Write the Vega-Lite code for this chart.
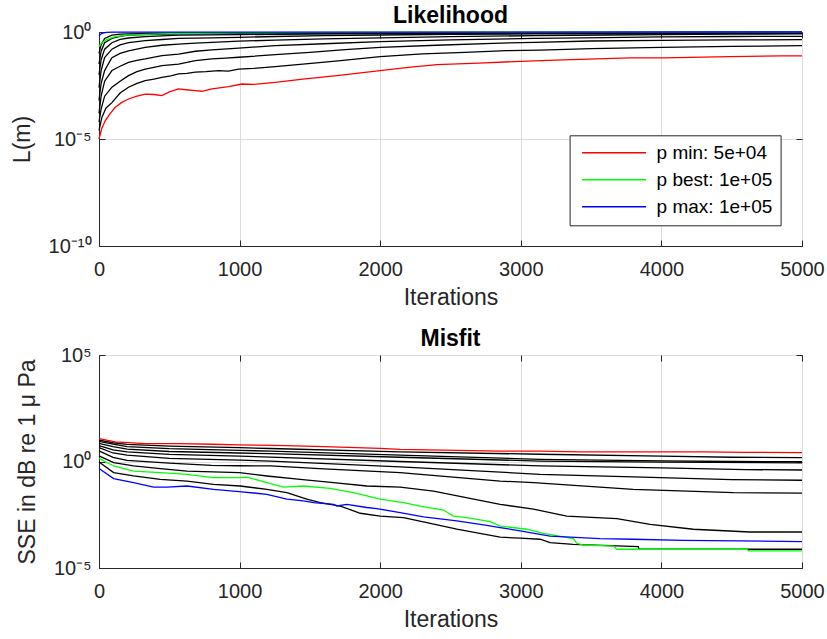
{
  "$schema": "https://vega.github.io/schema/vega-lite/v6.json",
  "background": "white",
  "padding": {"left": 10, "top": 4, "right": 5, "bottom": 5},
  "spacing": 17,
  "config": {
    "font": "Liberation Sans",
    "view": {"stroke": "#262626", "strokeWidth": 1},
    "axis": {
      "labelFont": "Liberation Sans", "labelFontSize": 20, "labelColor": "#262626",
      "titleFont": "Liberation Sans", "titleFontSize": 23, "titleFontWeight": "normal", "titleColor": "#262626",
      "domainColor": "#262626", "tickColor": "#262626", "tickSize": -6,
      "gridColor": "#dcdcdc", "gridWidth": 1, "labelFlush": false, "labelOverlap": false
    },
    "axisX": {"labelPadding": 19, "titlePadding": 7},
    "axisY": {"labelPadding": 14, "titlePadding": 14},
    "title": {"font": "Liberation Sans", "fontSize": 23, "fontWeight": "bold", "color": "#000000", "offset": -6, "anchor": "middle"}
  },
  "datasets": {
    "top": [
      {"s":"c1","x":0,"y":0.1},{"s":"c1","x":15,"y":0.251},{"s":"c1","x":40,"y":0.501},{"s":"c1","x":92,"y":0.708},{"s":"c1","x":150,"y":0.794},{"s":"c1","x":329,"y":0.871},{"s":"c1","x":566,"y":0.891},{"s":"c1","x":993,"y":0.912},{"s":"c1","x":2000,"y":0.933},{"s":"c1","x":3500,"y":0.955},{"s":"c1","x":5000,"y":0.977},
      {"s":"c2","x":0,"y":0.0316},{"s":"c2","x":15,"y":0.126},{"s":"c2","x":40,"y":0.316},{"s":"c2","x":92,"y":0.501},{"s":"c2","x":150,"y":0.631},{"s":"c2","x":210,"y":0.708},{"s":"c2","x":329,"y":0.759},{"s":"c2","x":566,"y":0.813},{"s":"c2","x":993,"y":0.851},{"s":"c2","x":1600,"y":0.891},{"s":"c2","x":2500,"y":0.912},{"s":"c2","x":3500,"y":0.933},{"s":"c2","x":5000,"y":0.955},
      {"s":"c3","x":0,"y":0.01},{"s":"c3","x":15,"y":0.0501},{"s":"c3","x":40,"y":0.158},{"s":"c3","x":92,"y":0.316},{"s":"c3","x":150,"y":0.447},{"s":"c3","x":210,"y":0.525},{"s":"c3","x":329,"y":0.603},{"s":"c3","x":448,"y":0.661},{"s":"c3","x":566,"y":0.708},{"s":"c3","x":803,"y":0.741},{"s":"c3","x":993,"y":0.759},{"s":"c3","x":1253,"y":0.776},{"s":"c3","x":2000,"y":0.851},{"s":"c3","x":3100,"y":0.891},{"s":"c3","x":4000,"y":0.912},{"s":"c3","x":5000,"y":0.933},
      {"s":"c4","x":0,"y":0.00251},{"s":"c4","x":15,"y":0.0158},{"s":"c4","x":40,"y":0.0631},{"s":"c4","x":92,"y":0.158},{"s":"c4","x":150,"y":0.251},{"s":"c4","x":210,"y":0.316},{"s":"c4","x":329,"y":0.398},{"s":"c4","x":448,"y":0.447},{"s":"c4","x":566,"y":0.501},{"s":"c4","x":803,"y":0.537},{"s":"c4","x":993,"y":0.562},{"s":"c4","x":1253,"y":0.617},{"s":"c4","x":1600,"y":0.676},{"s":"c4","x":2000,"y":0.724},{"s":"c4","x":2500,"y":0.776},{"s":"c4","x":3100,"y":0.813},{"s":"c4","x":4000,"y":0.851},{"s":"c4","x":5000,"y":0.871},
      {"s":"c5","x":0,"y":0.000631},{"s":"c5","x":15,"y":0.00398},{"s":"c5","x":40,"y":0.0158},{"s":"c5","x":92,"y":0.0631},{"s":"c5","x":150,"y":0.1},{"s":"c5","x":210,"y":0.132},{"s":"c5","x":329,"y":0.191},{"s":"c5","x":448,"y":0.24},{"s":"c5","x":566,"y":0.269},{"s":"c5","x":685,"y":0.302},{"s":"c5","x":803,"y":0.331},{"s":"c5","x":993,"y":0.372},{"s":"c5","x":1253,"y":0.417},{"s":"c5","x":1600,"y":0.479},{"s":"c5","x":2000,"y":0.537},{"s":"c5","x":2500,"y":0.603},{"s":"c5","x":3100,"y":0.676},{"s":"c5","x":3600,"y":0.724},{"s":"c5","x":4000,"y":0.759},{"s":"c5","x":4500,"y":0.794},{"s":"c5","x":5000,"y":0.813},
      {"s":"c6","x":0,"y":0.000158},{"s":"c6","x":15,"y":0.001},{"s":"c6","x":40,"y":0.00501},{"s":"c6","x":92,"y":0.0158},{"s":"c6","x":150,"y":0.0251},{"s":"c6","x":210,"y":0.038},{"s":"c6","x":270,"y":0.0468},{"s":"c6","x":329,"y":0.055},{"s":"c6","x":448,"y":0.0794},{"s":"c6","x":566,"y":0.0933},{"s":"c6","x":685,"y":0.126},{"s":"c6","x":803,"y":0.145},{"s":"c6","x":993,"y":0.178},{"s":"c6","x":1253,"y":0.229},{"s":"c6","x":1600,"y":0.282},{"s":"c6","x":2000,"y":0.355},{"s":"c6","x":2500,"y":0.427},{"s":"c6","x":3100,"y":0.501},{"s":"c6","x":3600,"y":0.55},{"s":"c6","x":4000,"y":0.589},{"s":"c6","x":4500,"y":0.617},{"s":"c6","x":5000,"y":0.631},
      {"s":"c7","x":0,"y":6.31e-5},{"s":"c7","x":15,"y":0.000251},{"s":"c7","x":40,"y":0.001},{"s":"c7","x":92,"y":0.00263},{"s":"c7","x":150,"y":0.00501},{"s":"c7","x":210,"y":0.00912},{"s":"c7","x":270,"y":0.0141},{"s":"c7","x":329,"y":0.0186},{"s":"c7","x":390,"y":0.0224},{"s":"c7","x":448,"y":0.0269},{"s":"c7","x":566,"y":0.0316},{"s":"c7","x":685,"y":0.0457},{"s":"c7","x":803,"y":0.055},{"s":"c7","x":900,"y":0.0603},{"s":"c7","x":993,"y":0.0661},{"s":"c7","x":1253,"y":0.0871},{"s":"c7","x":1500,"y":0.112},{"s":"c7","x":1750,"y":0.151},{"s":"c7","x":2000,"y":0.191},{"s":"c7","x":2400,"y":0.24},{"s":"c7","x":2800,"y":0.295},{"s":"c7","x":3100,"y":0.331},{"s":"c7","x":3500,"y":0.38},{"s":"c7","x":4000,"y":0.407},{"s":"c7","x":4500,"y":0.427},{"s":"c7","x":5000,"y":0.437},
      {"s":"c8","x":0,"y":2.51e-5},{"s":"c8","x":20,"y":0.0001},{"s":"c8","x":50,"y":0.000282},{"s":"c8","x":92,"y":0.000501},{"s":"c8","x":150,"y":0.00141},{"s":"c8","x":210,"y":0.00263},{"s":"c8","x":270,"y":0.00398},{"s":"c8","x":329,"y":0.00537},{"s":"c8","x":390,"y":0.00631},{"s":"c8","x":448,"y":0.00759},{"s":"c8","x":510,"y":0.00891},{"s":"c8","x":566,"y":0.011},{"s":"c8","x":625,"y":0.0117},{"s":"c8","x":685,"y":0.0132},{"s":"c8","x":760,"y":0.0141},{"s":"c8","x":850,"y":0.0158},{"s":"c8","x":920,"y":0.0148},{"s":"c8","x":993,"y":0.0186},{"s":"c8","x":1100,"y":0.02},{"s":"c8","x":1253,"y":0.024},{"s":"c8","x":1450,"y":0.0316},{"s":"c8","x":1700,"y":0.0447},{"s":"c8","x":2000,"y":0.0708},{"s":"c8","x":2300,"y":0.0955},{"s":"c8","x":2600,"y":0.112},{"s":"c8","x":2900,"y":0.135},{"s":"c8","x":3137,"y":0.141},{"s":"c8","x":3500,"y":0.166},{"s":"c8","x":4000,"y":0.191},{"s":"c8","x":4500,"y":0.214},{"s":"c8","x":5000,"y":0.229},
      {"s":"p min: 5e+04","x":0,"y":1e-5},{"s":"p min: 5e+04","x":20,"y":3.16e-5},{"s":"p min: 5e+04","x":45,"y":7.24e-5},{"s":"p min: 5e+04","x":80,"y":0.000158},{"s":"p min: 5e+04","x":116,"y":0.000302},{"s":"p min: 5e+04","x":160,"y":0.000501},{"s":"p min: 5e+04","x":210,"y":0.000741},{"s":"p min: 5e+04","x":270,"y":0.001},{"s":"p min: 5e+04","x":329,"y":0.00126},{"s":"p min: 5e+04","x":390,"y":0.0012},{"s":"p min: 5e+04","x":448,"y":0.00107},{"s":"p min: 5e+04","x":500,"y":0.00158},{"s":"p min: 5e+04","x":566,"y":0.00219},{"s":"p min: 5e+04","x":620,"y":0.002},{"s":"p min: 5e+04","x":685,"y":0.00182},{"s":"p min: 5e+04","x":732,"y":0.0017},{"s":"p min: 5e+04","x":803,"y":0.00219},{"s":"p min: 5e+04","x":870,"y":0.00251},{"s":"p min: 5e+04","x":921,"y":0.00282},{"s":"p min: 5e+04","x":1017,"y":0.00372},{"s":"p min: 5e+04","x":1100,"y":0.00355},{"s":"p min: 5e+04","x":1253,"y":0.00447},{"s":"p min: 5e+04","x":1450,"y":0.00631},{"s":"p min: 5e+04","x":1692,"y":0.00912},{"s":"p min: 5e+04","x":2000,"y":0.0158},{"s":"p min: 5e+04","x":2200,"y":0.0224},{"s":"p min: 5e+04","x":2403,"y":0.0302},{"s":"p min: 5e+04","x":2700,"y":0.0355},{"s":"p min: 5e+04","x":2995,"y":0.0427},{"s":"p min: 5e+04","x":3300,"y":0.0501},{"s":"p min: 5e+04","x":3777,"y":0.0617},{"s":"p min: 5e+04","x":4014,"y":0.0617},{"s":"p min: 5e+04","x":4488,"y":0.0708},{"s":"p min: 5e+04","x":4844,"y":0.0759},{"s":"p min: 5e+04","x":5000,"y":0.0759},
      {"s":"p best: 1e+05","x":0,"y":0.209},{"s":"p best: 1e+05","x":20,"y":0.316},{"s":"p best: 1e+05","x":52,"y":0.427},{"s":"p best: 1e+05","x":90,"y":0.537},{"s":"p best: 1e+05","x":123,"y":0.617},{"s":"p best: 1e+05","x":200,"y":0.708},{"s":"p best: 1e+05","x":336,"y":0.776},{"s":"p best: 1e+05","x":500,"y":0.832},{"s":"p best: 1e+05","x":692,"y":0.871},{"s":"p best: 1e+05","x":1000,"y":0.912},{"s":"p best: 1e+05","x":1500,"y":0.955},{"s":"p best: 1e+05","x":2500,"y":0.977},{"s":"p best: 1e+05","x":5000,"y":0.989},
      {"s":"p max: 1e+05","x":0,"y":0.676},{"s":"p max: 1e+05","x":20,"y":0.871},{"s":"p max: 1e+05","x":52,"y":0.955},{"s":"p max: 1e+05","x":100,"y":0.977},{"s":"p max: 1e+05","x":300,"y":0.993},{"s":"p max: 1e+05","x":5000,"y":0.998}
    ],
    "bottom": [
      {"s":"c1","x":0,"y":10},{"s":"c1","x":100,"y":7.59},{"s":"c1","x":200,"y":6.31},{"s":"c1","x":500,"y":5.25},{"s":"c1","x":1000,"y":4.47},{"s":"c1","x":1219,"y":4.07},{"s":"c1","x":2142,"y":2.82},{"s":"c1","x":3137,"y":2.19},{"s":"c1","x":4000,"y":1.78},{"s":"c1","x":4500,"y":1.58},{"s":"c1","x":5000,"y":1.51},
      {"s":"c2","x":0,"y":8.91},{"s":"c2","x":100,"y":6.61},{"s":"c2","x":200,"y":5.01},{"s":"c2","x":500,"y":3.98},{"s":"c2","x":1000,"y":3.31},{"s":"c2","x":1219,"y":3.09},{"s":"c2","x":2142,"y":2},{"s":"c2","x":3137,"y":1.26},{"s":"c2","x":4000,"y":1.07},{"s":"c2","x":4500,"y":1},{"s":"c2","x":5000,"y":0.977},
      {"s":"c3","x":0,"y":7.08},{"s":"c3","x":100,"y":5.01},{"s":"c3","x":200,"y":3.8},{"s":"c3","x":500,"y":2.95},{"s":"c3","x":1000,"y":2.51},{"s":"c3","x":1219,"y":2.34},{"s":"c3","x":2142,"y":1.58},{"s":"c3","x":3137,"y":1.05},{"s":"c3","x":4000,"y":0.933},{"s":"c3","x":5000,"y":0.871},
      {"s":"c4","x":0,"y":5.62},{"s":"c4","x":100,"y":3.55},{"s":"c4","x":200,"y":2.82},{"s":"c4","x":500,"y":2.14},{"s":"c4","x":1000,"y":1.78},{"s":"c4","x":1219,"y":1.62},{"s":"c4","x":2142,"y":1},{"s":"c4","x":3137,"y":0.617},{"s":"c4","x":4000,"y":0.501},{"s":"c4","x":4600,"y":0.417},{"s":"c4","x":5000,"y":0.398},
      {"s":"c5","x":0,"y":4.47},{"s":"c5","x":100,"y":2.51},{"s":"c5","x":200,"y":2},{"s":"c5","x":500,"y":1.41},{"s":"c5","x":1000,"y":1.15},{"s":"c5","x":1219,"y":1.05},{"s":"c5","x":2142,"y":0.562},{"s":"c5","x":3137,"y":0.251},{"s":"c5","x":3800,"y":0.191},{"s":"c5","x":4500,"y":0.141},{"s":"c5","x":5000,"y":0.132},
      {"s":"c6","x":0,"y":3.16},{"s":"c6","x":100,"y":1.58},{"s":"c6","x":200,"y":1.12},{"s":"c6","x":500,"y":0.832},{"s":"c6","x":800,"y":0.661},{"s":"c6","x":1000,"y":0.631},{"s":"c6","x":1219,"y":0.617},{"s":"c6","x":1600,"y":0.447},{"s":"c6","x":2142,"y":0.302},{"s":"c6","x":2853,"y":0.12},{"s":"c6","x":3090,"y":0.102},{"s":"c6","x":3800,"y":0.049},{"s":"c6","x":4512,"y":0.0347},{"s":"c6","x":5000,"y":0.0324},
      {"s":"c7","x":0,"y":1.82},{"s":"c7","x":104,"y":0.891},{"s":"c7","x":246,"y":0.617},{"s":"c7","x":436,"y":0.468},{"s":"c7","x":626,"y":0.355},{"s":"c7","x":997,"y":0.302},{"s":"c7","x":1194,"y":0.209},{"s":"c7","x":1431,"y":0.145},{"s":"c7","x":1668,"y":0.102},{"s":"c7","x":1905,"y":0.0708},{"s":"c7","x":2142,"y":0.0631},{"s":"c7","x":2379,"y":0.0407},{"s":"c7","x":2853,"y":0.00977},{"s":"c7","x":3090,"y":0.00575},{"s":"c7","x":3327,"y":0.00275},{"s":"c7","x":3683,"y":0.00209},{"s":"c7","x":3920,"y":0.00112},{"s":"c7","x":4227,"y":0.000661},{"s":"c7","x":4630,"y":0.00049},{"s":"c7","x":5000,"y":0.00049},
      {"s":"c8","x":0,"y":0.955},{"s":"c8","x":104,"y":0.302},{"s":"c8","x":246,"y":0.209},{"s":"c8","x":436,"y":0.145},{"s":"c8","x":626,"y":0.12},{"s":"c8","x":815,"y":0.0851},{"s":"c8","x":1004,"y":0.0708},{"s":"c8","x":1194,"y":0.049},{"s":"c8","x":1336,"y":0.0347},{"s":"c8","x":1478,"y":0.017},{"s":"c8","x":1573,"y":0.0117},{"s":"c8","x":1716,"y":0.00813},{"s":"c8","x":1858,"y":0.00372},{"s":"c8","x":2000,"y":0.00275},{"s":"c8","x":2166,"y":0.00234},{"s":"c8","x":2332,"y":0.00135},{"s":"c8","x":2545,"y":0.000661},{"s":"c8","x":2853,"y":0.000282},{"s":"c8","x":2995,"y":0.000251},{"s":"c8","x":3137,"y":0.000224},{"s":"c8","x":3208,"y":0.000155},{"s":"c8","x":3374,"y":0.000129},{"s":"c8","x":3836,"y":0.0001},{"s":"c8","x":3840,"y":7.59e-5},{"s":"c8","x":5000,"y":7.59e-5},
      {"s":"p min: 5e+04","x":0,"y":12},{"s":"p min: 5e+04","x":116,"y":8.32},{"s":"p min: 5e+04","x":329,"y":6.92},{"s":"p min: 5e+04","x":566,"y":6.92},{"s":"p min: 5e+04","x":803,"y":6.46},{"s":"p min: 5e+04","x":993,"y":6.03},{"s":"p min: 5e+04","x":1253,"y":5.75},{"s":"p min: 5e+04","x":1600,"y":5.01},{"s":"p min: 5e+04","x":2000,"y":4.17},{"s":"p min: 5e+04","x":2142,"y":3.72},{"s":"p min: 5e+04","x":2853,"y":3.09},{"s":"p min: 5e+04","x":3137,"y":3.09},{"s":"p min: 5e+04","x":3422,"y":2.82},{"s":"p min: 5e+04","x":4299,"y":2.82},{"s":"p min: 5e+04","x":4600,"y":2.69},{"s":"p min: 5e+04","x":5000,"y":2.63},
      {"s":"p best: 1e+05","x":0,"y":1.41},{"s":"p best: 1e+05","x":104,"y":0.617},{"s":"p best: 1e+05","x":246,"y":0.355},{"s":"p best: 1e+05","x":436,"y":0.302},{"s":"p best: 1e+05","x":626,"y":0.251},{"s":"p best: 1e+05","x":815,"y":0.174},{"s":"p best: 1e+05","x":997,"y":0.174},{"s":"p best: 1e+05","x":1052,"y":0.186},{"s":"p best: 1e+05","x":1219,"y":0.0912},{"s":"p best: 1e+05","x":1313,"y":0.0631},{"s":"p best: 1e+05","x":1455,"y":0.0708},{"s":"p best: 1e+05","x":1644,"y":0.055},{"s":"p best: 1e+05","x":1810,"y":0.0347},{"s":"p best: 1e+05","x":2000,"y":0.017},{"s":"p best: 1e+05","x":2166,"y":0.0117},{"s":"p best: 1e+05","x":2284,"y":0.00794},{"s":"p best: 1e+05","x":2450,"y":0.00525},{"s":"p best: 1e+05","x":2521,"y":0.00275},{"s":"p best: 1e+05","x":2616,"y":0.00234},{"s":"p best: 1e+05","x":2782,"y":0.00151},{"s":"p best: 1e+05","x":2853,"y":0.000933},{"s":"p best: 1e+05","x":3043,"y":0.000661},{"s":"p best: 1e+05","x":3161,"y":0.000427},{"s":"p best: 1e+05","x":3374,"y":0.00024},{"s":"p best: 1e+05","x":3398,"y":0.000145},{"s":"p best: 1e+05","x":3445,"y":0.00012},{"s":"p best: 1e+05","x":3659,"y":0.000107},{"s":"p best: 1e+05","x":3683,"y":7.59e-5},{"s":"p best: 1e+05","x":4607,"y":7.59e-5},{"s":"p best: 1e+05","x":4620,"y":6.31e-5},{"s":"p best: 1e+05","x":5000,"y":6.31e-5},
      {"s":"p max: 1e+05","x":0,"y":0.468},{"s":"p max: 1e+05","x":104,"y":0.158},{"s":"p max: 1e+05","x":246,"y":0.102},{"s":"p max: 1e+05","x":388,"y":0.0631},{"s":"p max: 1e+05","x":483,"y":0.0631},{"s":"p max: 1e+05","x":626,"y":0.0708},{"s":"p max: 1e+05","x":815,"y":0.049},{"s":"p max: 1e+05","x":997,"y":0.0389},{"s":"p max: 1e+05","x":1194,"y":0.0288},{"s":"p max: 1e+05","x":1336,"y":0.017},{"s":"p max: 1e+05","x":1455,"y":0.0141},{"s":"p max: 1e+05","x":1526,"y":0.0117},{"s":"p max: 1e+05","x":1668,"y":0.00977},{"s":"p max: 1e+05","x":1692,"y":0.00813},{"s":"p max: 1e+05","x":1763,"y":0.00977},{"s":"p max: 1e+05","x":1905,"y":0.00692},{"s":"p max: 1e+05","x":1976,"y":0.00617},{"s":"p max: 1e+05","x":2142,"y":0.00398},{"s":"p max: 1e+05","x":2308,"y":0.00251},{"s":"p max: 1e+05","x":2545,"y":0.00162},{"s":"p max: 1e+05","x":2758,"y":0.001},{"s":"p max: 1e+05","x":2853,"y":0.000794},{"s":"p max: 1e+05","x":2995,"y":0.00055},{"s":"p max: 1e+05","x":3137,"y":0.00038},{"s":"p max: 1e+05","x":3208,"y":0.000316},{"s":"p max: 1e+05","x":3564,"y":0.00024},{"s":"p max: 1e+05","x":3801,"y":0.000224},{"s":"p max: 1e+05","x":4156,"y":0.0002},{"s":"p max: 1e+05","x":5000,"y":0.000174}
    ]
  },
  "vconcat": [
    {
      "width": 703, "height": 214,
      "title": {"text": "Likelihood"},
      "data": {"name": "top"},
      "layer": [
        {
          "mark": {"type": "line", "strokeWidth": 1.3},
          "encoding": {
            "x": {"field": "x", "type": "quantitative", "scale": {"domain": [0, 5000], "nice": false},
                  "axis": {"values": [0, 1000, 2000, 3000, 4000, 5000], "format": "d", "title": "Iterations", "grid": true}},
            "y": {"field": "y", "type": "quantitative", "scale": {"type": "log", "domain": [1e-10, 1], "nice": false},
                  "axis": {"values": [1e-10, 1e-5, 1], "title": "L(m)", "grid": true,
                           "labelExpr": "datum.value < 1e-7 ? '10\u207b\u00b9\u2070' : datum.value < 1e-2 ? '10\u207b\u2075' : '10\u2070'"}},
            "color": {"field": "s", "type": "nominal",
                      "scale": {"domain": ["c1","c2","c3","c4","c5","c6","c7","c8","p min: 5e+04","p best: 1e+05","p max: 1e+05"],
                                "range": ["#000000","#000000","#000000","#000000","#000000","#000000","#000000","#000000","#ff0000","#00ff00","#0000ff"]},
                      "legend": {"values": ["p min: 5e+04","p best: 1e+05","p max: 1e+05"], "title": null,
                                 "orient": "none", "legendX": 470.6, "legendY": 103.3,
                                 "symbolType": "M-4,0H4", "symbolSize": 256, "symbolStrokeWidth": 1.5,
                                 "symbolOffset": 27, "labelOffset": 33,
                                 "labelFont": "Liberation Sans", "labelFontSize": 19, "labelColor": "#000000",
                                 "strokeColor": "#262626", "fillColor": "#ffffff", "padding": 8, "rowPadding": 7, "cornerRadius": 0}}
          }
        },
        {
          "mark": {"type": "line", "opacity": 0},
          "encoding": {
            "x": {"field": "x", "type": "quantitative",
                  "axis": {"orient": "top", "values": [0, 1000, 2000, 3000, 4000, 5000], "labels": false, "title": null, "grid": false, "domain": false, "labelPadding": 0, "minExtent": 0, "maxExtent": 0}},
            "y": {"field": "y", "type": "quantitative",
                  "axis": {"orient": "right", "values": [1e-10, 1e-5, 1], "labels": false, "title": null, "grid": false, "domain": false, "labelPadding": 0, "minExtent": 0, "maxExtent": 0}},
            "detail": {"field": "s"}
          }
        }
      ],
      "resolve": {"axis": {"x": "independent", "y": "independent"}}
    },
    {
      "width": 703, "height": 213,
      "title": {"text": "Misfit"},
      "data": {"name": "bottom"},
      "layer": [
        {
          "mark": {"type": "line", "strokeWidth": 1.3},
          "encoding": {
            "x": {"field": "x", "type": "quantitative", "scale": {"domain": [0, 5000], "nice": false},
                  "axis": {"values": [0, 1000, 2000, 3000, 4000, 5000], "format": "d", "title": "Iterations", "grid": true}},
            "y": {"field": "y", "type": "quantitative", "scale": {"type": "log", "domain": [1e-5, 1e5], "nice": false},
                  "axis": {"values": [1e-5, 1, 1e5], "title": "SSE in dB re 1 \u03bc Pa", "grid": true,
                           "labelExpr": "datum.value < 1e-2 ? '10\u207b\u2075' : datum.value < 10 ? '10\u2070' : '10\u2075'"}},
            "color": {"field": "s", "type": "nominal",
                      "scale": {"domain": ["c1","c2","c3","c4","c5","c6","c7","c8","p min: 5e+04","p best: 1e+05","p max: 1e+05"],
                                "range": ["#000000","#000000","#000000","#000000","#000000","#000000","#000000","#000000","#ff0000","#00ff00","#0000ff"]},
                      "legend": null}
          }
        },
        {
          "mark": {"type": "line", "opacity": 0},
          "encoding": {
            "x": {"field": "x", "type": "quantitative",
                  "axis": {"orient": "top", "values": [0, 1000, 2000, 3000, 4000, 5000], "labels": false, "title": null, "grid": false, "domain": false, "labelPadding": 0, "minExtent": 0, "maxExtent": 0}},
            "y": {"field": "y", "type": "quantitative",
                  "axis": {"orient": "right", "values": [1e-5, 1, 1e5], "labels": false, "title": null, "grid": false, "domain": false, "labelPadding": 0, "minExtent": 0, "maxExtent": 0}},
            "detail": {"field": "s"}
          }
        }
      ],
      "resolve": {"axis": {"x": "independent", "y": "independent"}}
    }
  ],
  "resolve": {"scale": {"color": "independent"}, "legend": {"color": "independent"}}
}
